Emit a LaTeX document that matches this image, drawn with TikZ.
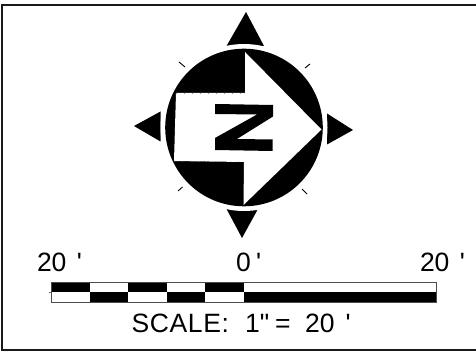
\documentclass[tikz,border=0pt]{standalone}
\usepackage{fontspec}
\newfontfamily\lib{Liberation Sans}
\newfontfamily\libwide[LetterSpace=2.5]{Liberation Sans}
\tikzset{
  blk/.style={fill=black,draw=none},
  wht/.style={fill=white,draw=none},
  lbl/.style={anchor=base west,inner sep=0pt,outer sep=0pt,text=black,font=\lib\fontsize{26.5}{26.5}\selectfont},
  tickmark/.style={line width=0.9pt,black},
  edgemark/.style={line width=0.6pt,draw=black!40,dash pattern=on 1pt off 7pt}
}
\begin{document}
\begin{tikzpicture}[x=1pt,y=-1pt]
\useasboundingbox (0,0) rectangle (476,352);
\clip (0,0) rectangle (476,352);
\fill[white] (0,0) rectangle (476,352);
% frame
\draw[line width=1.8pt,draw=black!90] (2,4.8) rectangle (490,350);
% compass triangles
\fill[blk] (246,12) -- (226.5,46) -- (264,46) -- cycle;
\fill[blk] (242,238) -- (226,208) -- (258.5,208) -- cycle;
\fill[blk] (134,126) -- (160.5,111.5) -- (160.5,141.5) -- cycle;
\fill[blk] (353,130) -- (327,113.5) -- (327,144.5) -- cycle;
\fill[wht] (244,127.5) circle (83.5);
% disc
\fill[blk] (244,127.5) circle (78.8);
% arrow
\fill[wht] (245,52) -- (321.5,129.5) -- (243.5,205) -- (244,162) -- (174,161) -- (176,93) -- (245,93) -- cycle;
\draw[edgemark] (176,93) -- (245,93);
\draw[edgemark] (174,161) -- (244,162);
% Z
\fill[blk] (215,104) -- (273,105) -- (273,116.5) -- (237,139) -- (272.5,139.5) -- (272.5,151) -- (215,150) -- (215,138) -- (257,114.5) -- (215,114) -- cycle;
% diagonal ticks
\draw[tickmark] (179,62) -- (185,67);
\draw[tickmark] (305,68) -- (310,64);
\draw[tickmark] (178,191) -- (182.5,187);
\draw[tickmark] (302,189) -- (307,194);
% scale bar
\fill[white] (51,282) rectangle (436,302);
\foreach \a/\b in {51/90,128/167,205/244}{
  \fill[blk] (\a,282) rectangle (\b,292);
}
\foreach \a/\b in {90/128,167/205,244/436}{
  \fill[blk] (\a,292) rectangle (\b,302);
}
\draw[line width=0.8pt,draw=black!70] (51,282) rectangle (436,302);
\draw[line width=0.5pt,draw=black!60] (49,292) -- (51,292);
% labels
\node[lbl] (left) at (37,272) {20\hspace{10.5pt}\char"27};
\node[lbl] (mid) at (236,272) {0\hspace{5.5pt}\char"27};
\node[lbl] (right) at (420,272) {20\hspace{10.5pt}\char"27};
\node[lbl] (scale) at (131.5,332) {{\libwide SCALE:}\hspace{16pt}1\char"22\hspace{6pt}=\hspace{14.5pt}20\hspace{11pt}\char"27};
\end{tikzpicture}
\end{document}
